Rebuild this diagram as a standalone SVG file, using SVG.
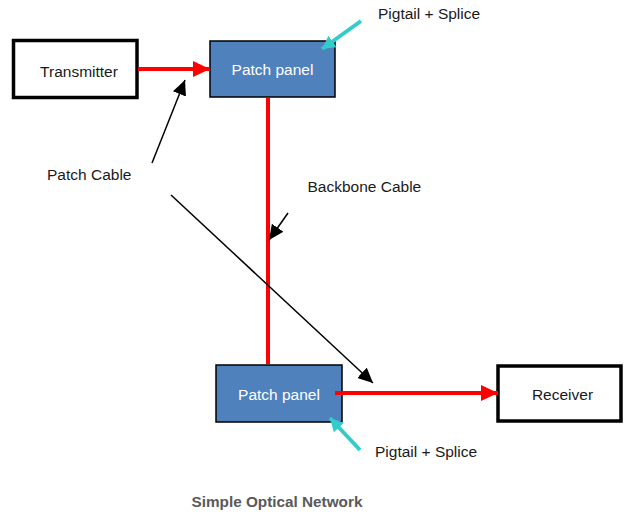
<svg xmlns="http://www.w3.org/2000/svg" width="625" height="512" viewBox="0 0 625 512">
<style>
text{font-family:"Liberation Sans",Arial,sans-serif;font-size:15.5px;fill:#1a1a1a}
.box{fill:#fff;stroke:#000;stroke-width:3.5}
.pp{fill:#4F81BD;stroke:#000;stroke-width:1.5}
.ppt{fill:#fff;text-anchor:middle}
.red{stroke:#ff0000;stroke-width:4;fill:none}
.blk{stroke:#000;stroke-width:1.5;fill:none}
.cy{stroke:#33CCCC;stroke-width:4;fill:none}
</style>
<defs>
<marker id="ar" markerUnits="userSpaceOnUse" markerWidth="18" markerHeight="16" refX="17" refY="8" orient="auto"><path d="M0,0 L17,8 L0,16 Z" fill="#ff0000"/></marker>
<marker id="ab" markerUnits="userSpaceOnUse" markerWidth="16" markerHeight="14" refX="15" refY="7" orient="auto"><path d="M0,0 L15,7 L0,14 Z" fill="#000"/></marker>
<marker id="ac" markerUnits="userSpaceOnUse" markerWidth="14" markerHeight="14" refX="13" refY="7" orient="auto"><path d="M0,0 L13,7 L0,14 Z" fill="#33CCCC"/></marker>
</defs>
<rect width="625" height="512" fill="#fff"/>
<g id="transmitter"><rect class="box" x="13.5" y="40.5" width="123.5" height="57"/><text x="79" y="77" text-anchor="middle">Transmitter</text></g>
<g id="patch-panel-top"><rect class="pp" x="210" y="41" width="125" height="56"/><text class="ppt" x="272.5" y="75">Patch panel</text></g>
<g id="patch-panel-bottom"><rect class="pp" x="216" y="365" width="126" height="57"/><text class="ppt" x="279" y="400">Patch panel</text></g>
<g id="receiver"><rect class="box" x="498" y="366" width="123" height="55"/><text x="562.5" y="400" text-anchor="middle">Receiver</text></g>
<g id="connectors">
<line class="red" x1="138" y1="69" x2="210" y2="69" marker-end="url(#ar)"/>
<line class="red" x1="268" y1="98" x2="268" y2="364"/>
<line class="red" x1="335" y1="393" x2="498" y2="393" marker-end="url(#ar)"/>
<line class="blk" x1="152" y1="163" x2="185" y2="80" marker-end="url(#ab)"/>
<line class="blk" x1="171" y1="195" x2="373" y2="383" marker-end="url(#ab)"/>
<line class="blk" x1="288" y1="213" x2="269" y2="240" marker-end="url(#ab)"/>
<line class="cy" x1="361" y1="21" x2="322" y2="49" marker-end="url(#ac)"/>
<line class="cy" x1="360" y1="450" x2="330" y2="418" marker-end="url(#ac)"/>
</g>
<g id="labels">
<text x="378" y="19">Pigtail + Splice</text>
<text x="375" y="457">Pigtail + Splice</text>
<text x="47" y="180">Patch Cable</text>
<text x="307.5" y="192">Backbone Cable</text>
<text x="277" y="507" text-anchor="middle" style="font-weight:bold;font-size:15.3px;fill:#595959">Simple Optical Network</text>
</g>
</svg>
